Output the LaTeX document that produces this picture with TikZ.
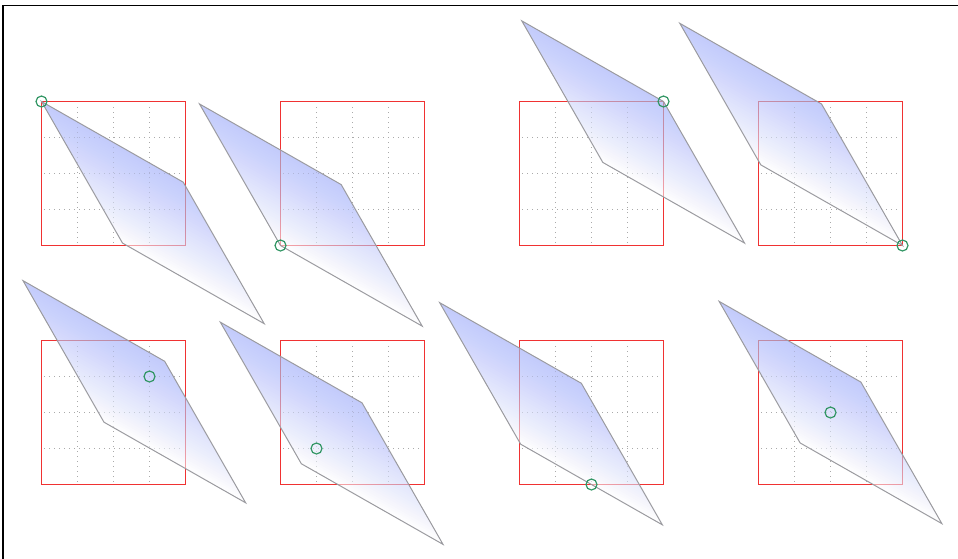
\documentclass[tikz,border=0pt]{standalone}
\definecolor{sqred}{RGB}{240,50,50}
\definecolor{ancgreen}{RGB}{50,150,100}
\definecolor{layerblue}{RGB}{120,140,250}
\definecolor{gridgray}{RGB}{170,170,170}
\definecolor{bordergray}{RGB}{155,155,160}
\tikzset{
  sqbox/.style={draw=sqred, solid, line width=0.9pt},
  sqgrid/.style={draw=gridgray, dotted, line width=0.5pt},
  pborder/.style={draw=bordergray, solid, line width=0.5pt},
  pbase/.style={fill=white, fill opacity=0.55},
  player/.style={fill=layerblue, fill opacity=0.0125},
  anc/.style={draw=ancgreen, solid, line width=0.6pt},
  framebox/.style={draw=black, solid, line width=0.6pt},
  skewmap/.style={cm={0.984,-0.56,-0.5625,0.983,(0,0)}}
}
\newcommand\mybase[2]{%
  \begin{scope}[shift={(#1,#2)}]
    \foreach \g in {0.25,0.5,0.75}{%
      \draw[sqgrid] (\g,0.02) -- (\g,0.98);
      \draw[sqgrid] (0.02,\g) -- (0.98,\g);
    }
    \draw[sqbox] (0,0) -- (1,0) -- (1,1) -- (0,1) -- cycle;
  \end{scope}
}
\newcommand\mypanel[4]{%
  \begin{scope}[shift={({(#1)+(#3)},{(#2)+(#4)})}, skewmap, shift={({-(#3)},{-(#4)})}]
    \fill[pbase] (0,0) rectangle (1,1);
    \foreach \k in {1,...,40}{%
      \fill[player] (0,{1-\k/40}) rectangle (1,1);
    }
    \draw[pborder] (0,0) rectangle (1,1);
  \end{scope}
  \draw[anc] ({(#1)+(#3)},{(#2)+(#4)}) circle[radius=2.75pt];
}
\begin{document}
\begin{tikzpicture}[x=72pt,y=72pt]
  \useasboundingbox (0,-3.875) rectangle (6.6528,0);
  \draw[framebox] (0.0208,-3.9) -- (0.0208,-0.0368) -- (6.7,-0.0368);
  % squares with grids
  \foreach \px in {0.288194,1.947917,3.607639,5.267361}{%
    \foreach \py in {-1.704861,-3.364583}{%
      \mybase{\px}{\py}
    }
  }
  % row 1
  \mypanel{0.288194}{-1.704861}{0}{1}
  \mypanel{1.947917}{-1.704861}{0}{0}
  \mypanel{3.607639}{-1.704861}{1}{1}
  \mypanel{5.267361}{-1.704861}{1}{0}
  % row 2
  \mypanel{0.288194}{-3.364583}{0.75}{0.75}
  \mypanel{1.947917}{-3.364583}{0.25}{0.25}
  \mypanel{3.607639}{-3.364583}{0.5}{0}
  \mypanel{5.267361}{-3.364583}{0.5}{0.5}
\end{tikzpicture}
\end{document}
